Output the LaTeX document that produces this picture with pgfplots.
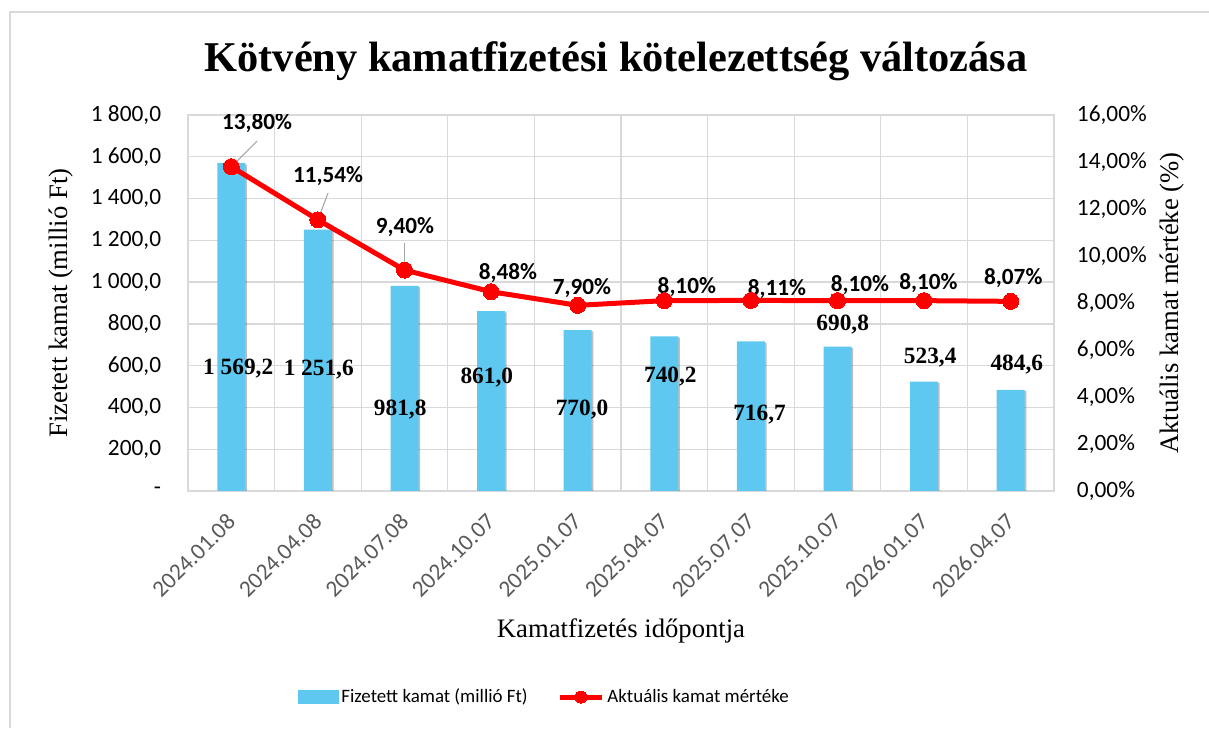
\documentclass[border=0pt]{standalone}
\usepackage{pgfplots}
\pgfplotsset{compat=1.18}
\usepackage{fontspec}
\setmainfont{Liberation Serif}
\newfontfamily\calibri{Carlito}
\usetikzlibrary{shadows}
\definecolor{barblue}{RGB}{94,200,240}
\definecolor{gridgray}{RGB}{217,217,217}
\definecolor{ticktext}{RGB}{89,89,89}
\definecolor{leadergray}{RGB}{166,166,166}
\newcommand{\tickfont}{\calibri\fontsize{17.5}{20}\selectfont}
\pgfplotsset{
  barleg/.style={legend image code/.code={\fill[barblue] (0pt,-5pt) rectangle (30pt,5pt);}},
  lineleg/.style={legend image code/.code={\draw[mark repeat=2, mark phase=2, ##1, mark size=4.5pt] plot coordinates {(0pt,0pt) (16pt,0pt) (32pt,0pt)};}},
}
\begin{document}
\begin{tikzpicture}
\path[use as bounding box] (0,0) rectangle (906.75pt,546pt);
\draw[gridgray, line width=1.5pt] (7.5pt,0) -- (7.5pt,537pt) -- (906.75pt,537pt);
\node[font=\bfseries\fontsize{31.8}{36}\selectfont, anchor=base] at (462pt,492pt) {Kötvény kamatfizetési kötelezettség változása};
\node[font=\fontsize{20}{24}\selectfont, rotate=90] at (45.75pt,318.75pt) {Fizetett kamat (millió Ft)};
\node[font=\fontsize{20}{24}\selectfont, rotate=90] at (879pt,318.75pt) {Aktuális kamat mértéke (\%)};
\node[font=\fontsize{20}{24}\selectfont, anchor=base] at (465.75pt,68.25pt) {Kamatfizetés időpontja};

\begin{axis}[
  at={(141pt,177.75pt)}, anchor=south west,
  width=649.5pt, height=282pt, scale only axis,
  xmin=-0.5, xmax=9.5, ymin=0, ymax=1800,
  xtick={0,1,2,3,4,5,6,7,8,9},
  xticklabels={2024.01.08,2024.04.08,2024.07.08,2024.10.07,2025.01.07,2025.04.07,2025.07.07,2025.10.07,2026.01.07,2026.04.07},
  minor xtick={-0.5,0.5,1.5,2.5,3.5,4.5,5.5,6.5,7.5,8.5,9.5},
  xminorgrids=true, ymajorgrids=true,
  ytick={0,200,...,1800},
  yticklabels={{-\hspace{8pt}},{200,0},{400,0},{600,0},{800,0},{1 000,0},{1 200,0},{1 400,0},{1 600,0},{1 800,0}},
  major tick length=0pt, minor tick length=0pt,
  axis line style={draw=gridgray, line width=1pt},
  grid style={gridgray, line width=1pt},
  minor grid style={gridgray, line width=1pt},
  yticklabel style={font=\tickfont, anchor=east, inner sep=0pt, xshift=-20pt},
  xticklabel style={font=\tickfont, text=ticktext, inner sep=0pt, xshift=0pt, yshift=-20pt, rotate=45, anchor=east},
]
\addplot[ybar, bar width=21pt, bar shift=0pt, fill=barblue, draw=none,
  drop shadow={shadow xshift=1.2pt, shadow yshift=-1pt, opacity=0.25, fill=black}]
  coordinates {(0,1569.2) (1,1251.6) (2,981.8) (3,861.0) (4,770.0) (5,740.2) (6,716.7) (7,690.8) (8,523.4) (9,484.6)};
\begin{scope}[every node/.style={font=\bfseries\fontsize{17.5}{20}\selectfont}]
\node at (axis cs:0.08,584) {1 569,2};
\node at (axis cs:1.01,579) {1 251,6};
\node at (axis cs:1.95,388) {981,8};
\node at (axis cs:2.95,541) {861,0};
\node at (axis cs:4.05,388) {770,0};
\node at (axis cs:5.07,546) {740,2};
\node at (axis cs:6.1,364) {716,7};
\node at (axis cs:7.06,795) {690,8};
\node at (axis cs:8.07,641) {523,4};
\node at (axis cs:9.07,603) {484,6};
\end{scope}
\end{axis}

\begin{axis}[
  at={(141pt,177.75pt)}, anchor=south west,
  width=649.5pt, height=282pt, scale only axis,
  xmin=-0.5, xmax=9.5, ymin=0, ymax=16,
  hide x axis, axis line style={draw=none},
  ytick pos=right, yticklabel pos=right,
  ytick={0,2,...,16},
  yticklabels={{0,00\%},{2,00\%},{4,00\%},{6,00\%},{8,00\%},{10,00\%},{12,00\%},{14,00\%},{16,00\%}},
  major tick length=0pt,
  yticklabel style={font=\tickfont, anchor=west, inner sep=0pt, xshift=17pt},
  legend columns=2,
  legend style={at={(0.412,-0.548)}, anchor=center, draw=none, fill=none,
    font=\calibri\fontsize{14.2}{16}\selectfont,
    /tikz/every even column/.append style={column sep=20pt}},
]
\addlegendimage{barleg}
\addlegendentry{Fizetett kamat (millió Ft)}
\draw[leadergray, line width=0.8pt] (axis cs:0,13.8) -- (axis cs:0.297,14.89);
\draw[leadergray, line width=0.8pt] (axis cs:1,11.54) -- (axis cs:1.117,12.68);
\draw[leadergray, line width=0.8pt] (axis cs:2,9.4) -- (axis cs:2,10.55);
\addplot[red, line width=3.75pt, mark=*, mark size=6pt, mark options={fill=red, draw=red, line width=0pt}, lineleg]
  coordinates {(0,13.80) (1,11.54) (2,9.40) (3,8.48) (4,7.90) (5,8.10) (6,8.11) (7,8.10) (8,8.10) (9,8.07)};
\addlegendentry{Aktuális kamat mértéke}
\begin{scope}[every node/.style={font=\calibri\bfseries\fontsize{17.4}{20}\selectfont}]
\node at (axis cs:0.297,15.66) {13,80\%};
\node at (axis cs:1.117,13.40) {11,54\%};
\node at (axis cs:2.006,11.23) {9,40\%};
\node at (axis cs:3.195,9.28) {8,48\%};
\node at (axis cs:4.05,8.64) {7,90\%};
\node at (axis cs:5.26,8.68) {8,10\%};
\node at (axis cs:6.30,8.60) {8,11\%};
\node at (axis cs:7.26,8.77) {8,10\%};
\node at (axis cs:8.05,8.85) {8,10\%};
\node at (axis cs:9.03,9.06) {8,07\%};
\end{scope}
\end{axis}
\end{tikzpicture}
\end{document}
